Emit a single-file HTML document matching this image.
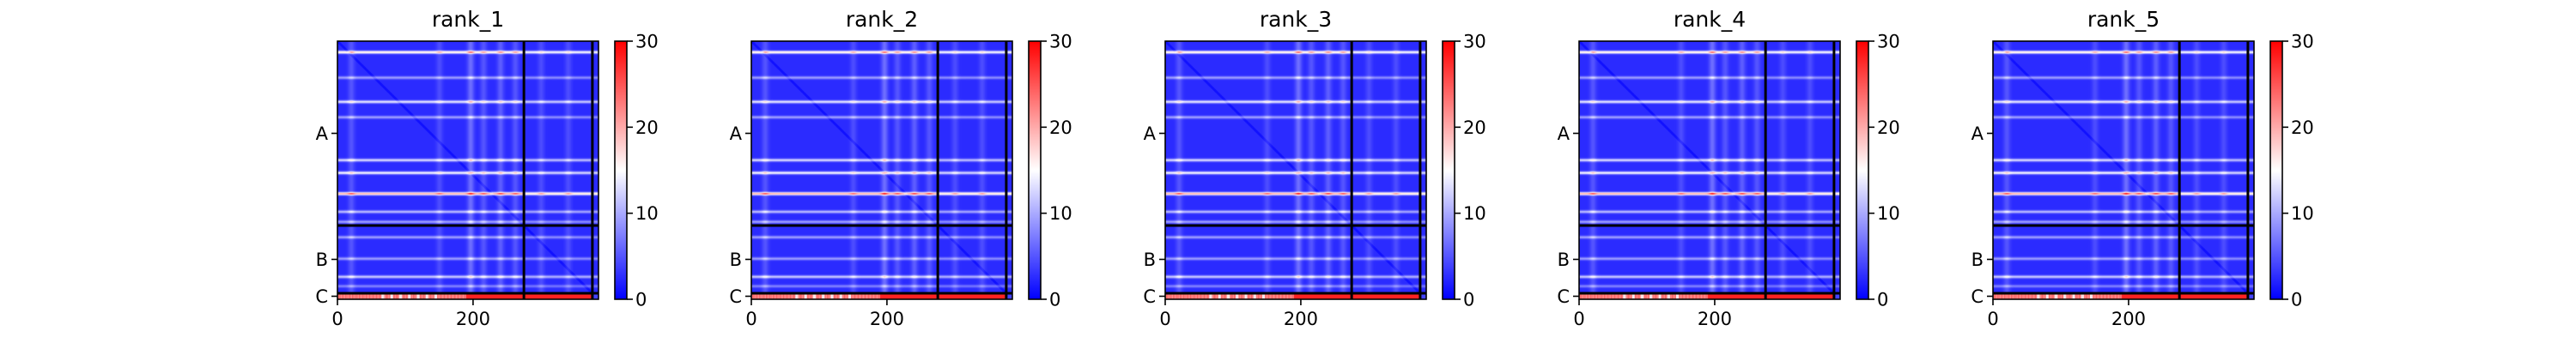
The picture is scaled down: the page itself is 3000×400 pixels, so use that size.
<!DOCTYPE html>
<html><head><meta charset="utf-8">
<style>
html,body{margin:0;padding:0;background:#fff;}
#root{position:relative;width:3000px;height:400px;overflow:hidden;font-family:"DejaVu Sans","Liberation Sans",sans-serif;}
canvas{position:absolute;image-rendering:auto;}
svg{position:absolute;left:0;top:0;}
</style></head>
<body>
<div id="root">
<svg id="ov" width="3000" height="400"></svg>
</div>
<script>
// ---- data ----
const panelTitles = ["rank_1","rank_2","rank_3","rank_4","rank_5"];
const chainNames = ["A","B","C"];
const chainLengths = [275, 101, 9];
const xTickValues = [0, 200];
const cbarTicks = [0, 10, 20, 30];
const rowBandPos = [16, 54, 90, 113, 177, 196, 227, 254, 269, 292, 324, 351, 365];
const rowBandVal = [17, 8, 13, 8, 12, 14, 21, 10, 8, 8, 8, 11, 6];
const colBandPos = [20, 150, 196, 215, 240, 262, 300, 340];
const colBandVal = [2.5, 2, 4, 2.5, 3, 2.5, 2, 2];
const chainCVal = [20, 20, 17, 22, 19, 27, 28, 28, 28];
const baseVal = 2.5;
const vmax = 30;

// ---- layout ----
const N = chainLengths.reduce((a,b)=>a+b,0);
const panelX0 = 393, panelStep = 482, axTop = 48, axW = 304, axH = 301;
const NS = "http://www.w3.org/2000/svg";
const ov = document.getElementById('ov');
const root = document.getElementById('root');

function bwr(v){
  const t = Math.max(0, Math.min(1, v / vmax));
  let r,g,b;
  if (t < 0.5){ const s=t/0.5; r=Math.round(255*s); g=Math.round(255*s); b=255; }
  else { const s=(t-0.5)/0.5; r=255; g=Math.round(255*(1-s)); b=Math.round(255*(1-s)); }
  return [r,g,b];
}
function bump(x, c, w){ const d=(x-c)/w; return Math.exp(-d*d); }

function valueAt(i,j){
  const bA = chainLengths[0] + chainLengths[1];
  if (i >= bA){
    if (j >= bA) return 4;
    let v;
    if (j < 190) v = 21 + ((j*7)%5) - (j>60 && j<150 && j%13<4 ? 7 : 0);
    else v = 28;
    return v;
  }
  let rb = 0;
  for (let k=0;k<rowBandPos.length;k++) rb = Math.max(rb, rowBandVal[k]*bump(i,rowBandPos[k],2.2));
  let cb = 0;
  for (let k=0;k<colBandPos.length;k++) cb = Math.max(cb, colBandVal[k]*bump(j,colBandPos[k],5));
  const d = Math.abs(i-j);
  const diag = d < 3 ? -1.5 : 0;
  const jb = j >= chainLengths[0] ? 0.85 : 1;
  const mod = 0.85 + 0.05*cb;
  const v = baseVal + cb + rb*jb*mod + diag;
  return Math.max(0, v);
}

for (let p=0;p<panelTitles.length;p++){
  const x0 = panelX0 + p*panelStep;
  const cv = document.createElement('canvas');
  
  
  cv.width = N; cv.height = N;
  cv.style.left = x0+'px'; cv.style.top = axTop+'px';
  cv.style.width = axW+'px'; cv.style.height = axH+'px';
  const ctx = cv.getContext('2d');
  const img = ctx.createImageData(N,N);
  for (let i=0;i<N;i++) for (let j=0;j<N;j++){
    const c = bwr(valueAt(i,j));
    const o = (i*N+j)*4;
    img.data[o]=c[0]; img.data[o+1]=c[1]; img.data[o+2]=c[2]; img.data[o+3]=255;
  }
  ctx.putImageData(img,0,0);
  root.insertBefore(cv, ov);

  const sx = v => x0 + v/N*axW;
  const sy = v => axTop + v/N*axH;

  const g = document.createElementNS(NS,'g');
  
  
  ov.appendChild(g);

  let acc = 0;
  for (let c=0;c<chainLengths.length-1;c++){
    acc += chainLengths[c];
    const vl = document.createElementNS(NS,'line');
    
    
    vl.setAttribute('x1', sx(acc)); vl.setAttribute('x2', sx(acc));
    vl.setAttribute('y1', axTop); vl.setAttribute('y2', axTop+axH);
    vl.setAttribute('stroke','#000'); vl.setAttribute('stroke-width','3');
    g.appendChild(vl);
    const hl = document.createElementNS(NS,'line');
    
    
    hl.setAttribute('x1', x0); hl.setAttribute('x2', x0+axW);
    hl.setAttribute('y1', sy(acc)); hl.setAttribute('y2', sy(acc));
    hl.setAttribute('stroke','#000'); hl.setAttribute('stroke-width','3');
    g.appendChild(hl);
  }
  const fr = document.createElementNS(NS,'rect');
  
  
  fr.setAttribute('x', x0); fr.setAttribute('y', axTop);
  fr.setAttribute('width', axW); fr.setAttribute('height', axH);
  fr.setAttribute('fill','none'); fr.setAttribute('stroke','#000'); fr.setAttribute('stroke-width','1.6');
  g.appendChild(fr);

  const t = document.createElementNS(NS,'text');
  
  
  t.setAttribute('x', x0+axW/2); t.setAttribute('y', 31);
  t.setAttribute('text-anchor','middle'); t.setAttribute('font-size','25');
  t.textContent = panelTitles[p];
  g.appendChild(t);

  acc = 0;
  for (let c=0;c<chainLengths.length;c++){
    const mid = acc + chainLengths[c]/2; acc += chainLengths[c];
    const y = sy(mid);
    const tk = document.createElementNS(NS,'line');
    
    
    tk.setAttribute('x1', x0-7); tk.setAttribute('x2', x0);
    tk.setAttribute('y1', y); tk.setAttribute('y2', y);
    tk.setAttribute('stroke','#000'); tk.setAttribute('stroke-width','1.6');
    g.appendChild(tk);
    const lb = document.createElementNS(NS,'text');
    
    
    lb.setAttribute('x', x0-11); lb.setAttribute('y', y+7.5);
    lb.setAttribute('text-anchor','end'); lb.setAttribute('font-size','21');
    lb.textContent = chainNames[c];
    g.appendChild(lb);
  }
  for (const v of xTickValues){
    const x = sx(v);
    const tk = document.createElementNS(NS,'line');
    
    
    tk.setAttribute('x1', x); tk.setAttribute('x2', x);
    tk.setAttribute('y1', axTop+axH); tk.setAttribute('y2', axTop+axH+7);
    tk.setAttribute('stroke','#000'); tk.setAttribute('stroke-width','1.6');
    g.appendChild(tk);
    const lb = document.createElementNS(NS,'text');
    
    
    lb.setAttribute('x', x); lb.setAttribute('y', axTop+axH+30);
    lb.setAttribute('text-anchor','middle'); lb.setAttribute('font-size','21');
    lb.textContent = v;
    g.appendChild(lb);
  }

  const cbx = x0 + 323, cbw = 14;
  const gid = 'cbg'+p;
  const defs = document.createElementNS(NS,'defs');
  const lg = document.createElementNS(NS,'linearGradient');
  lg.setAttribute('id', gid); lg.setAttribute('x1','0'); lg.setAttribute('y1','1'); lg.setAttribute('x2','0'); lg.setAttribute('y2','0');
  [[0,'#0000ff'],[0.5,'#ffffff'],[1,'#ff0000']].forEach(s=>{
    const st = document.createElementNS(NS,'stop');
    st.setAttribute('offset', s[0]); st.setAttribute('stop-color', s[1]);
    lg.appendChild(st);
  });
  defs.appendChild(lg); g.appendChild(defs);
  const cb = document.createElementNS(NS,'rect');
  
  
  cb.setAttribute('x', cbx); cb.setAttribute('y', axTop);
  cb.setAttribute('width', cbw); cb.setAttribute('height', axH);
  cb.setAttribute('fill', 'url(#'+gid+')'); cb.setAttribute('stroke','#000'); cb.setAttribute('stroke-width','1.6');
  g.appendChild(cb);
  for (const v of cbarTicks){
    const y = axTop + axH - v/vmax*axH;
    const tk = document.createElementNS(NS,'line');
    
    
    tk.setAttribute('x1', cbx+cbw); tk.setAttribute('x2', cbx+cbw+7);
    tk.setAttribute('y1', y); tk.setAttribute('y2', y);
    tk.setAttribute('stroke','#000'); tk.setAttribute('stroke-width','1.6');
    g.appendChild(tk);
    const lb = document.createElementNS(NS,'text');
    
    
    lb.setAttribute('x', cbx+cbw+10); lb.setAttribute('y', y+7.5);
    lb.setAttribute('font-size','21');
    lb.textContent = v;
    g.appendChild(lb);
  }
}
</script>
</body></html>
